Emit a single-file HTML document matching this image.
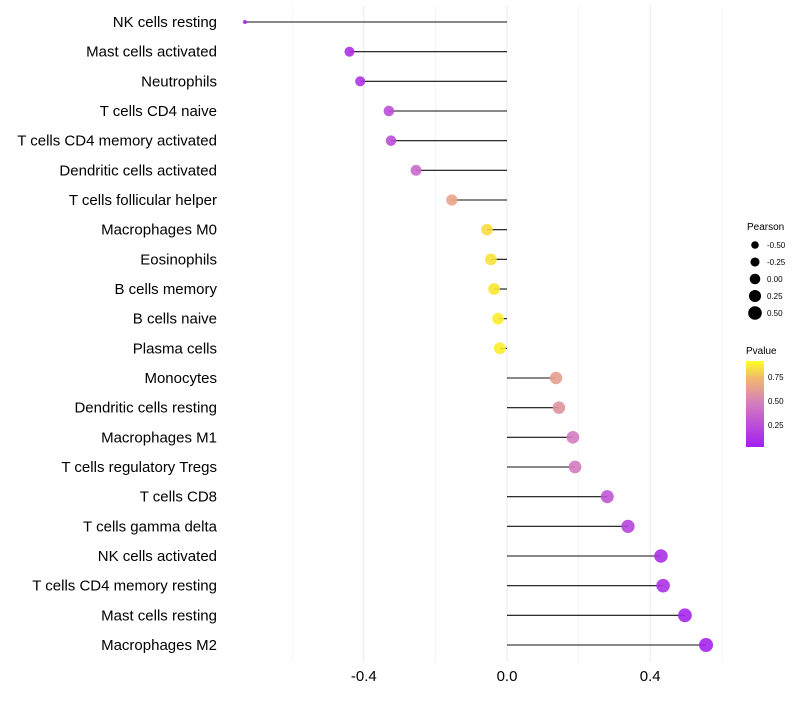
<!DOCTYPE html>
<html><head><meta charset="utf-8"><style>
body{margin:0;background:#fff;font-family:"Liberation Sans",sans-serif;}
</style></head><body>
<svg id="chart" width="800" height="700" xmlns="http://www.w3.org/2000/svg" font-family="Liberation Sans, sans-serif">
<defs><linearGradient id="pg" x1="0" y1="1" x2="0" y2="0">
<stop offset="0" stop-color="#a21ff0"/><stop offset="0.5" stop-color="#d37cc0"/><stop offset="0.8" stop-color="#f2b86e"/><stop offset="1" stop-color="#ffff20"/></linearGradient></defs>
<g id="grid"></g><g id="marks"></g><g id="labels"></g><g id="legend"></g>
</svg>
<script>
const categories=["NK cells resting","Mast cells activated","Neutrophils","T cells CD4 naive","T cells CD4 memory activated","Dendritic cells activated","T cells follicular helper","Macrophages M0","Eosinophils","B cells memory","B cells naive","Plasma cells","Monocytes","Dendritic cells resting","Macrophages M1","T cells regulatory  Tregs ","T cells CD8","T cells gamma delta","NK cells activated","T cells CD4 memory resting","Mast cells resting","Macrophages M2"];
const pearson=[-0.732,-0.44,-0.41,-0.33,-0.324,-0.254,-0.154,-0.056,-0.045,-0.036,-0.025,-0.02,0.137,0.145,0.184,0.19,0.28,0.338,0.43,0.436,0.497,0.556];
const pvalue=[0.02,0.1,0.12,0.25,0.26,0.4,0.7,0.9,0.92,0.93,0.95,0.95,0.68,0.62,0.5,0.5,0.3,0.2,0.1,0.1,0.05,0.03];
const xTicks=[-0.4,0.0,0.4];
const xMinor=[-0.6,-0.2,0.2,0.6];
const legendSizes=[-0.5,-0.25,0,0.25,0.5];
const legendP=[0.75,0.5,0.25];
const NS="http://www.w3.org/2000/svg";
const X=v=>507+v*358;
const Y=i=>22+i*(623/21);
const R=v=>{const a=35.6+24.1*v;return v<-0.6?2:Math.sqrt(Math.max(4,a));};
function col(p){const s=[[0,[162,31,240]],[0.5,[211,124,192]],[0.8,[242,184,110]],[1,[255,255,20]]];
for(let k=1;k<s.length;k++){if(p<=s[k][0]){const a=s[k-1],b=s[k],t=(p-a[0])/(b[0]-a[0]);return`rgb(${a[1].map((c,j)=>Math.round(c+t*(b[1][j]-c))).join(',')})`;}}return'rgb(255,255,20)';}
function el(t,a,p){const e=document.createElementNS(NS,t);for(const k in a)e.setAttribute(k,a[k]);p.appendChild(e);return e;}
const g=document.getElementById('grid'),m=document.getElementById('marks'),l=document.getElementById('labels'),lg=document.getElementById('legend');
xMinor.forEach(v=>{const e=el('line',{x1:X(v),x2:X(v),y1:5,y2:662,stroke:'#f4f4f4','stroke-width':1},g);

});
xTicks.forEach(v=>{const e=el('line',{x1:X(v),x2:X(v),y1:5,y2:662,stroke:'#ebebeb','stroke-width':1},g);


const t=el('text',{x:X(v),y:681,'text-anchor':'middle','font-size':15,fill:'#000'},l);t.textContent=v.toFixed(1);

});
categories.forEach((c,i)=>{const y=Y(i);
const ln=el('line',{x1:X(0),x2:X(pearson[i]),y1:y,y2:y,stroke:'#111','stroke-width':1.1},m);


const d=el('circle',{cx:X(pearson[i]),cy:y,r:R(pearson[i]),fill:col(pvalue[i]),'fill-opacity':0.9},m);


const t=el('text',{x:217,y:y+5,'text-anchor':'end','font-size':15,fill:'#000'},l);t.textContent=c;

});
let t=el('text',{x:747,y:230,'font-size':10},lg);t.textContent='Pearson';


legendSizes.forEach((v,i)=>{const y=245+i*17;
const c=el('circle',{cx:755,cy:y,r:3.8+i*0.75,fill:'#000'},lg);


const tt=el('text',{x:767,y:y+3,'font-size':8},lg);tt.textContent=v.toFixed(2);

});
t=el('text',{x:746,y:354,'font-size':10},lg);t.textContent='Pvalue';


const bar=el('rect',{x:746,y:361,width:18,height:86,fill:'url(#pg)'},lg);


legendP.forEach(v=>{const y=447-(v-0.02)/0.9*86;
const tt=el('text',{x:768,y:y+3,'font-size':8},lg);tt.textContent=v.toFixed(2);

});
</script>
</body></html>
